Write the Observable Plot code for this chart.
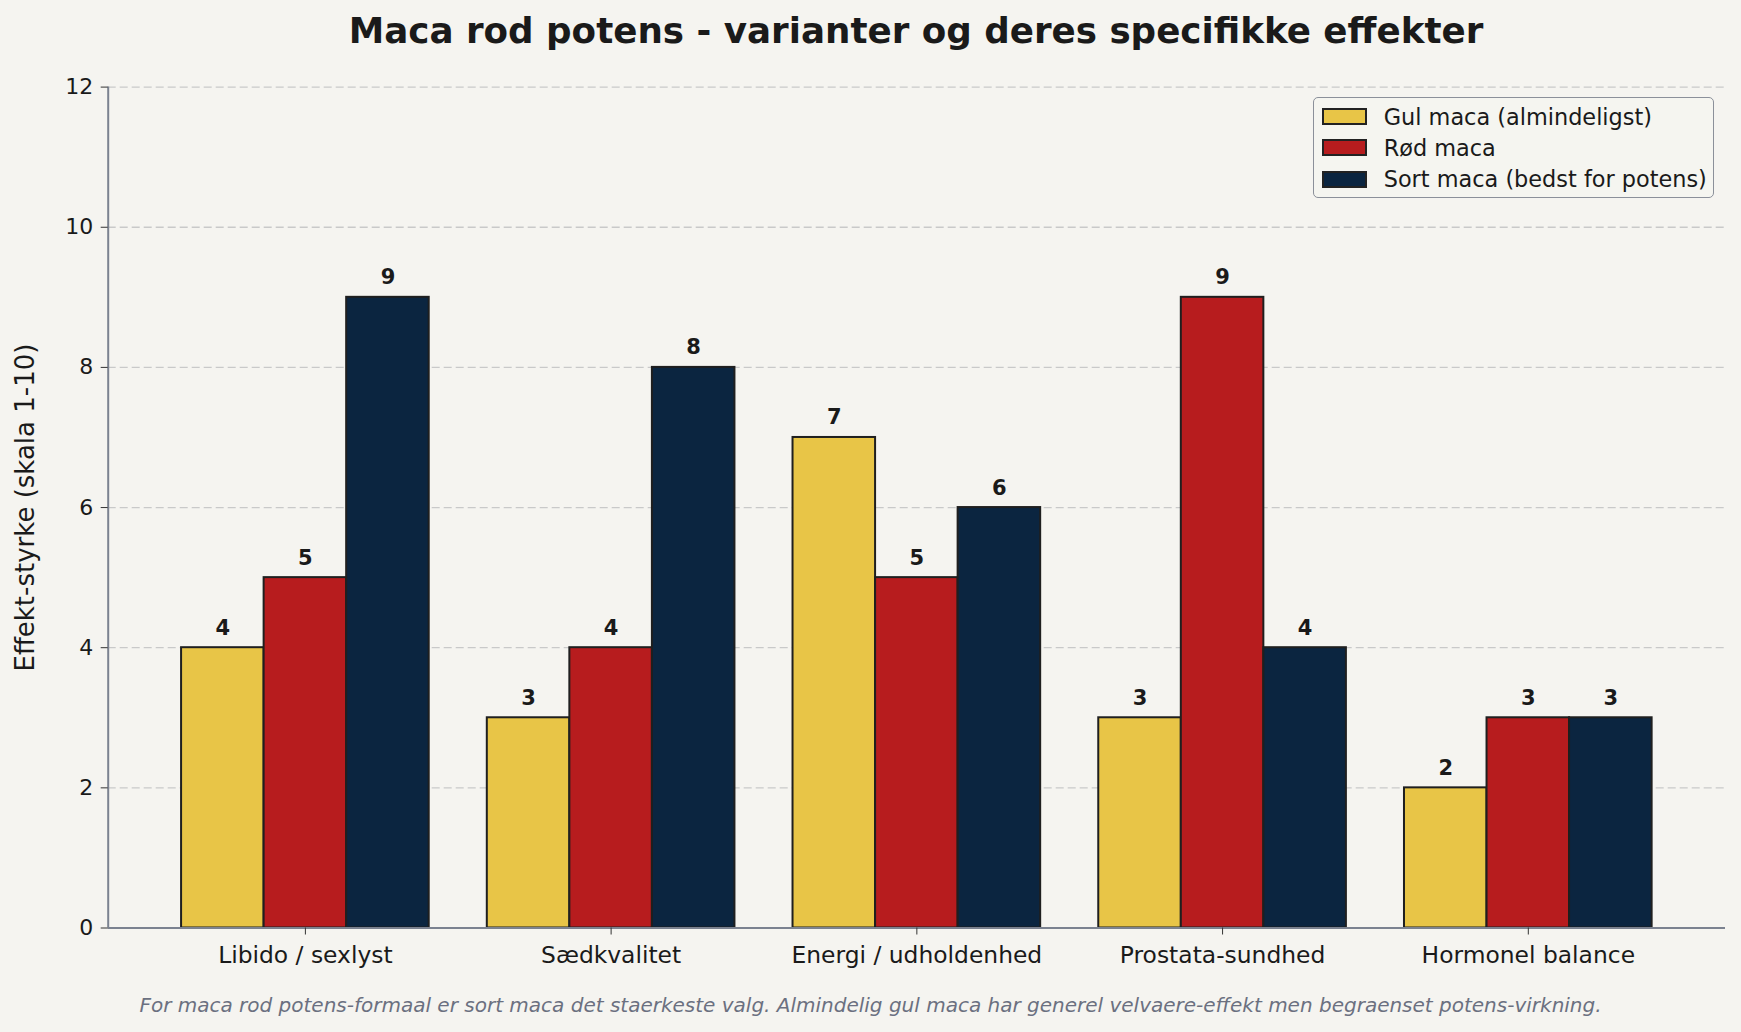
<!DOCTYPE html>
<html>
<head>
<meta charset="utf-8">
<script src="https://cdn.jsdelivr.net/npm/d3@7"></script>
<script src="https://cdn.jsdelivr.net/npm/@observablehq/plot@0.6"></script>
<style>
  html, body { margin: 0; padding: 0; background: #f5f4f0; }
  #fig { position: relative; width: 1741px; height: 1032px; overflow: hidden; background: #f5f4f0; font-family: "DejaVu Sans", sans-serif; color: #1a1a1a; }
  #fig svg { position: absolute; left: 0; top: 0; }
  .title { position: absolute; left: 0; width: 1832px; text-align: center; font-weight: bold; font-size: 35.7px; line-height: 1; top: 13px; white-space: nowrap; }
  .caption { position: absolute; left: 0; width: 1741px; text-align: center; font-style: italic; font-size: 20px; line-height: 1; top: 995px; color: #6b7080; white-space: nowrap; }
  #legend { position: absolute; left: 1312.7px; top: 97.3px; width: 401px; height: 100.4px; border: 1.5px solid #8b909a; border-radius: 5px; box-sizing: border-box; background: rgba(245,244,240,0.85); }
  .sw { position: absolute; left: 8px; width: 45.6px; height: 17.3px; box-sizing: border-box; border: 2px solid #222; }
  .lt { position: absolute; left: 70px; font-size: 22.4px; line-height: 1; white-space: nowrap; }
</style>
</head>
<body>
<div id="fig">
  <div class="title">Maca rod potens - varianter og deres specifikke effekter</div>
  <div class="caption">For maca rod potens-formaal er sort maca det staerkeste valg. Almindelig gul maca har generel velvaere-effekt men begraenset potens-virkning.</div>
</div>
<script>
const categories = ["Libido / sexlyst", "Sædkvalitet", "Energi / udholdenhed", "Prostata-sundhed", "Hormonel balance"];
const seriesNames = ["Gul maca (almindeligst)", "Rød maca", "Sort maca (bedst for potens)"];
const gulValues = [4, 3, 7, 3, 2];
const rodValues = [5, 4, 5, 9, 3];
const sortValues = [9, 8, 6, 4, 3];
const seriesColors = ["#E8C547", "#B71C1E", "#0B2540"];
const yTicks = [0, 2, 4, 6, 8, 10, 12];
const yLabel = "Effekt-styrke (skala 1-10)";

const barWidth = 0.27;
const xDomain = [-0.645, categories.length - 1 + 0.645];
const seriesValues = [gulValues, rodValues, sortValues];

const data = [];
seriesValues.forEach((vals, k) => {
  vals.forEach((v, i) => {
    const c = i + (k - 1) * barWidth;
    data.push({series: seriesNames[k], value: v, xc: c, x1: c - barWidth / 2, x2: c + barWidth / 2});
  });
});

const chart = Plot.plot({
  width: 1741,
  height: 1032,
  marginTop: 86.6,
  marginBottom: 104.5,
  marginLeft: 107.7,
  marginRight: 16,
  style: {background: "transparent", fontFamily: "DejaVu Sans, sans-serif", color: "#1a1a1a", overflow: "visible"},
  x: {type: "linear", domain: xDomain},
  y: {domain: [0, 12]},
  color: {domain: seriesNames, range: seriesColors},
  marks: [
    Plot.gridY(yTicks, {stroke: "#c9c9c9", strokeOpacity: 1, strokeDasharray: "8,4", strokeWidth: 1.3}),
    Plot.rectY(data, {x1: "x1", x2: "x2", y1: 0, y2: "value", fill: "series", stroke: "#1f1f1f", strokeWidth: 2}),
    Plot.text(data, {x: "xc", y: "value", text: d => String(d.value), lineAnchor: "bottom", dy: -13, fontWeight: "bold", fontSize: 21, fill: "#1a1a1a"}),
    Plot.ruleY([0], {stroke: "#7b8290", strokeWidth: 2}),
    Plot.ruleX([xDomain[0]], {stroke: "#7b8290", strokeWidth: 2}),
    Plot.axisX(categories.map((_, i) => i), {tickFormat: i => categories[i], tickSize: 7, tickPadding: 11, fontSize: 23.4, label: null, stroke: "#333"}),
    Plot.axisY(yTicks, {tickFormat: d => String(d), tickSize: 7, tickPadding: 8, fontSize: 22, label: null, stroke: "#333"}),
    Plot.text([yLabel], {frameAnchor: "left", text: d => d, textAnchor: "middle", lineAnchor: "middle", rotate: -90, dx: -83, fontSize: 26, fill: "#1a1a1a"})
  ]
});
document.getElementById("fig").appendChild(chart);

const legend = document.createElement("div");
legend.id = "legend";
const rowCenters = [20, 51, 82.5];
seriesNames.forEach((name, k) => {
  const sw = document.createElement("div");
  sw.className = "sw";
  sw.style.background = seriesColors[k];
  sw.style.top = (rowCenters[k] - 8.65 - 1.5) + "px";
  legend.appendChild(sw);
  const t = document.createElement("div");
  t.className = "lt";
  t.textContent = name;
  t.style.top = (rowCenters[k] - 1.5 - 11.2) + "px";
  legend.appendChild(t);
});
document.getElementById("fig").appendChild(legend);
</script>
</body>
</html>
